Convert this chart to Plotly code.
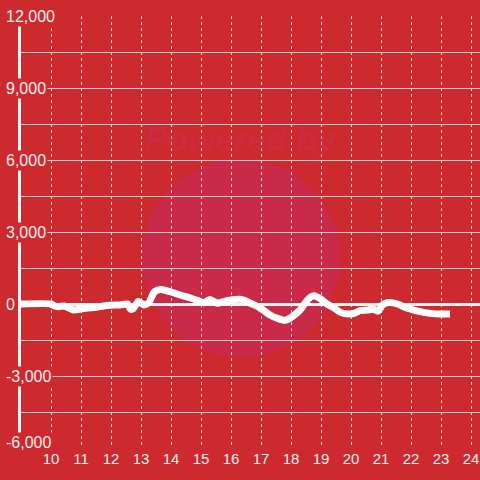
import plotly.graph_objects as go

# Hora do dia e valor da série
horas = [9.0, 10.0, 10.1, 10.25, 10.45, 10.75, 11.0, 11.2, 11.5, 11.75, 12.0, 12.3,
         12.55, 12.65, 12.75, 12.9, 13.0, 13.1, 13.25, 13.45, 13.65, 14.0, 14.3,
         14.65, 14.9, 15.1, 15.3, 15.55, 15.75, 16.0, 16.3, 16.45, 16.65, 16.9,
         17.1, 17.3, 17.55, 17.8, 18.0, 18.3, 18.55, 18.75, 19.0, 19.2, 19.45,
         19.65, 19.9, 20.1, 20.3, 20.55, 20.75, 20.9, 21.05, 21.25, 21.55, 21.75,
         22.0, 22.3, 22.65, 22.97, 23.3]
valores = [0, 0, -70, -110, -80, -250, -210, -170, -140, -80, -50, -40,
           0, -220, -180, 100, 40, -40, 40, 510, 600, 500, 375,
           250, 140, 55, 190, 30, 100, 170, 200, 150, 30, -110,
           -280, -460, -600, -680, -560, -250, 170, 340, 200, 0, -180,
           -350, -420, -390, -280, -250, -220, -300, -40, 60, 0, -110,
           -220, -320, -390, -420, -420]

x_ticks = list(range(10, 25))
y_ticks = [12000, 9000, 6000, 3000, 0, -3000, -6000]
y_labels = ['12,000', '9,000', '6,000', '3,000', '0', '-3,000', '-6,000']

BG = '#cc2a2f'
FONT = 'Liberation Sans, Arial, sans-serif'

fig = go.Figure()
fig.add_trace(go.Scatter(
    x=horas, y=valores, mode='lines',
    line=dict(color='white', width=7, shape='spline', smoothing=0.6),
    hoverinfo='skip', showlegend=False,
))

# marca d'água (círculo + texto)
fig.add_shape(type='circle', xref='paper', yref='paper',
              x0=0.2636, x1=0.695, y0=0.2106, y1=0.669,
              fillcolor='#c92a48', line=dict(width=0), layer='below')
fig.add_annotation(text='<b><i>Powered by</i></b>', xref='paper', yref='paper',
                   x=0.48, y=0.765, showarrow=False,
                   font=dict(size=34, color='rgba(210,45,90,0.35)', family=FONT))

# rótulos do eixo y com fundo para cobrir a linha do eixo
for v, lab in zip(y_ticks, y_labels):
    fig.add_annotation(text=lab, xref='paper', yref='y', x=0, y=v,
                       xanchor='left', yanchor='middle', xshift=-17,
                       yshift=6 if v == y_ticks[-1] else 0,
                       showarrow=False, bgcolor=BG, borderpad=1,
                       font=dict(size=16, color='#eeeeee', family=FONT))

fig.update_layout(
    width=480, height=480,
    margin=dict(l=21, r=0, t=16, b=32, autoexpand=False),
    paper_bgcolor=BG, plot_bgcolor=BG,
    font=dict(family=FONT, color='#eeeeee', size=15),
    showlegend=False,
)
fig.update_xaxes(
    range=[9, 24.3], tickvals=x_ticks, ticks='', automargin=False,
    showgrid=True, gridcolor='#dddddd', griddash='dot', gridwidth=1,
    zeroline=False, showline=False,
    tickfont=dict(size=15, color='#eeeeee'),
)
fig.update_yaxes(
    range=[-6000, 12000], dtick=1500, showticklabels=False, ticks='',
    automargin=False,
    showgrid=True, gridcolor='#cccccc', gridwidth=1,
    zeroline=True, zerolinecolor='#f4f4f4', zerolinewidth=3,
    showline=True, linecolor='#f4f4f4', linewidth=3,
)

# a página tem margem de 8px no body; zera para o gráfico ocupar a janela toda
fig.write_html("out.html", config={'displayModeBar': False},
               post_script="document.body.style.margin='0';")
